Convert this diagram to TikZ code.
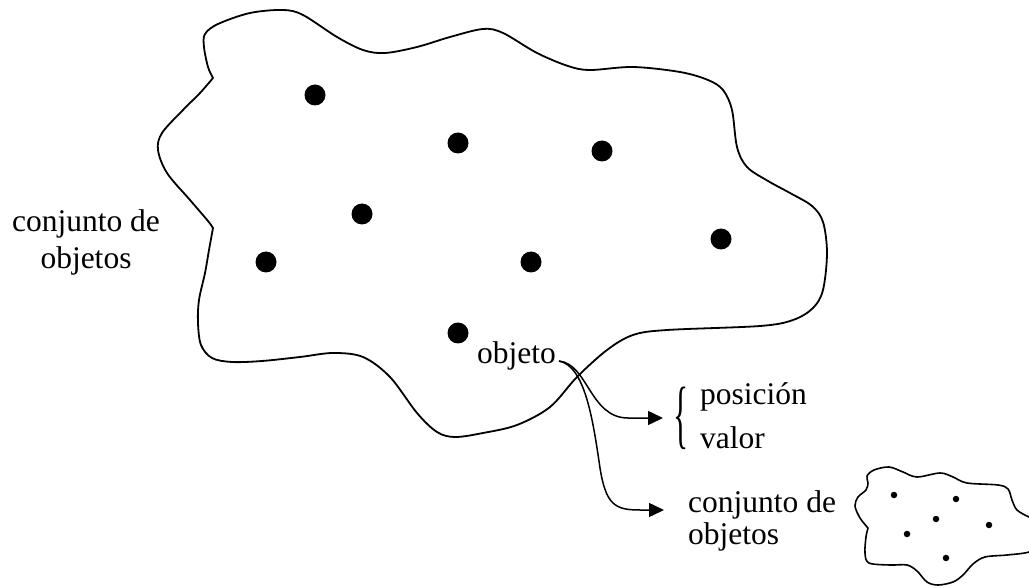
\documentclass[tikz,border=0pt]{standalone}
\usepackage{fontspec}
\usepackage{graphicx}
\setmainfont{Liberation Serif}
\usetikzlibrary{arrows.meta}
\begin{document}
\begin{tikzpicture}[x=1pt,y=-1pt,
  outline/.style={line width=1.8pt, line join=round, line cap=round},
  conn/.style={line width=1.5pt, -{Triangle[length=15pt,width=14pt]}},
  bigdot/.style={circle, fill=black, inner sep=0pt, minimum size=21pt},
  smalldot/.style={circle, fill=black, inner sep=0pt, minimum size=6.5pt},
  lbl/.style={inner sep=0pt, font=\fontsize{31.5}{35}\selectfont}]

\useasboundingbox (0,0) rectangle (1029,588);
\clip (0,0) rectangle (1029,588);

% large set of objects
\draw[outline]
  plot[smooth, tension=0.55] coordinates {
    (213,228) (209,250) (205,273) (199,300) (198,323) (201,345) (212,358)
    (232,362) (262,361) (300,357) (333,353) (363,357) (390,377) (417,413)
    (437,432) (455,437) (483,433) (517,425) (550,407) (577,377) (607,350)
    (633,335) (667,330) (760,326) (793,320) (813,308) (823,290) (827,253)
    (823,222) (812,206) (790,193) (768,181) (747,167) (737,147) (732,110)
    (723,90) (708,80) (680,72) (633,67) (590,70) (568,66) (537,53)
    (503,33) (483,29) (450,37) (417,47) (385,53) (363,50) (337,37)
    (303,15) (283,10) (250,13) (218,24) (205,34) (204,47) (208,67) (213,78)}
  -- plot[smooth, tension=0.55] coordinates {
    (213,78) (200,93) (183,110) (162,133) (158,150) (167,173) (190,200)
    (208,221) (213,228)}
  -- cycle;

\node[bigdot] (d1) at (315,95) {};
\node[bigdot] (d2) at (458,143) {};
\node[bigdot] (d3) at (602,151) {};
\node[bigdot] (d4) at (362,214) {};
\node[bigdot] (d5) at (266,262) {};
\node[bigdot] (d6) at (531,262) {};
\node[bigdot] (d7) at (721,239) {};
\node[bigdot] (d8) at (458,333) {};

% labels
\node[lbl, anchor=base] (setA1) at (86,232) {conjunto de};
\node[lbl, anchor=base] (setA2) at (86,269) {objetos};
\node[lbl, anchor=base west] (obj) at (477,363) {objeto};
\node[lbl] (brace) at (681,418) {\scalebox{1}[2.4]{\{}};
\node[lbl, anchor=base west] (pos) at (700,404) {posición};
\node[lbl, anchor=base west] (val) at (700,448) {valor};
\node[lbl, anchor=base west] (setB1) at (688,512) {conjunto de};
\node[lbl, anchor=base west] (setB2) at (688,544) {objetos};

% connectors from the object
\coordinate (tail) at (559,361);
\coordinate (tipA) at (663,418);
\coordinate (tipB) at (664,510);
\draw[conn] (tail) .. controls (588,364) and (590,418) .. (628,418) -- (tipA);
\draw[conn] (tail) .. controls (585,366) and (593,420) .. (600,468)
  .. controls (606,505) and (615,510) .. (640,510) -- (tipB);

% small set of objects
\draw[outline, line width=1.6pt]
  plot[smooth, tension=0.55] coordinates {
    (868,528) (866,537) (865,553) (869,563) (890,565) (907,565) (917,571)
    (927,582) (938,585) (953,582) (963,575) (973,564) (985,557) (1007,555)
    (1029,552) (1042,544) (1042,522) (1029,517) (1017,510) (1012,500)
    (1008,489) (998,485) (967,483) (953,477) (940,473) (917,477) (903,472)
    (889,467) (874,470) (867,476) (868,483) (866,490) (858,497) (855,506)
    (860,518) (868,528)}
  -- cycle;

\node[smalldot] (s1) at (894,495) {};
\node[smalldot] (s2) at (956,499) {};
\node[smalldot] (s3) at (936,519) {};
\node[smalldot] (s4) at (989,525) {};
\node[smalldot] (s5) at (907,534) {};
\node[smalldot] (s6) at (946,558) {};
\end{tikzpicture}
\end{document}
